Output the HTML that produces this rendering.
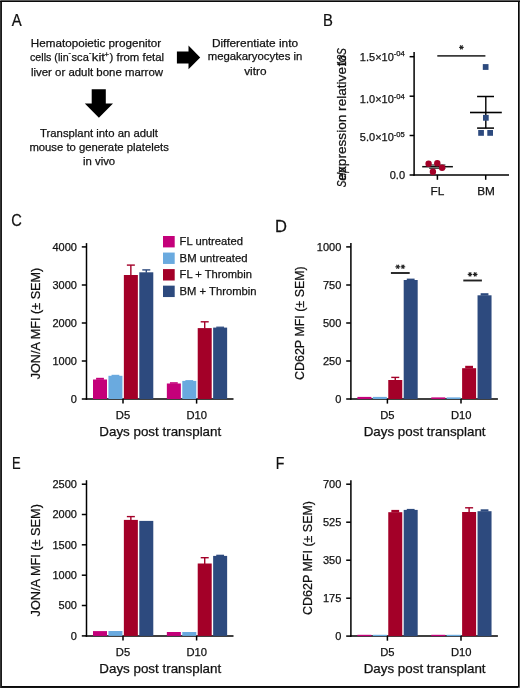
<!DOCTYPE html>
<html><head><meta charset="utf-8"><style>
html,body{margin:0;padding:0;background:#fff;overflow:hidden;}
#fig{position:relative;width:520px;height:688px;overflow:hidden;background:#fff;}
svg{position:absolute;left:0;top:0;}
svg text{font-family:"Liberation Sans", sans-serif;fill:#111;stroke:#111;stroke-width:0.25px;}
svg{will-change:transform;}
</style></head><body><div id="fig">
<svg width="520" height="688" viewBox="0 0 520 688">
<rect x="0" y="0" width="520" height="688" fill="#fff"/>
<text transform="translate(11.87,25.80) scale(0.863,1)" font-size="17.3">A</text>
<text transform="translate(322.88,25.80) scale(0.858,1)" font-size="17.3">B</text>
<text transform="translate(11.15,226.00) scale(0.849,1)" font-size="17.3">C</text>
<text transform="translate(274.94,231.70) scale(0.956,1)" font-size="17.3">D</text>
<text transform="translate(12.04,468.80) scale(0.747,1)" font-size="17.3">E</text>
<text transform="translate(275.74,468.80) scale(0.816,1)" font-size="17.3">F</text>
<text x="30.85" y="46.70" font-size="11.6" textLength="130.3" lengthAdjust="spacingAndGlyphs">Hematopoietic progenitor</text>
<text x="30.00" y="61.10" font-size="11.6" textLength="38.6" lengthAdjust="spacingAndGlyphs">cells (lin</text>
<text x="71.60" y="61.10" font-size="11.6" textLength="17.2" lengthAdjust="spacingAndGlyphs">sca</text>
<text x="91.80" y="61.10" font-size="11.6" textLength="13.2" lengthAdjust="spacingAndGlyphs">kit</text>
<text x="109.60" y="61.10" font-size="11.6" textLength="54.4" lengthAdjust="spacingAndGlyphs">) from fetal</text>
<text x="68.50" y="55.30" font-size="7.2">-</text>
<text x="88.90" y="55.30" font-size="7.2">-</text>
<text x="104.60" y="56.90" font-size="7.6">+</text>
<text x="30.95" y="75.50" font-size="11.6" textLength="132.1" lengthAdjust="spacingAndGlyphs">liver or adult bone marrow</text>
<text x="40.05" y="136.80" font-size="11.6" textLength="117.9" lengthAdjust="spacingAndGlyphs">Transplant into an adult</text>
<text x="29.40" y="150.50" font-size="11.6" textLength="139.4" lengthAdjust="spacingAndGlyphs">mouse to generate platelets</text>
<text x="83.00" y="164.80" font-size="11.6" textLength="32.2" lengthAdjust="spacingAndGlyphs">in vivo</text>
<text x="211.90" y="46.50" font-size="11.6" textLength="86.2" lengthAdjust="spacingAndGlyphs">Differentiate into</text>
<text x="207.70" y="60.30" font-size="11.6" textLength="94.6" lengthAdjust="spacingAndGlyphs">megakaryocytes in</text>
<text x="244.20" y="75.00" font-size="11.6" textLength="22.3" lengthAdjust="spacingAndGlyphs">vitro</text>
<polygon points="176.9,51.4 188.5,51.4 188.5,45.5 200.2,57.5 188.5,69.2 188.5,63.5 176.9,63.5" fill="#000"/>
<polygon points="91.7,89.2 105.8,89.2 105.8,103.5 113.0,103.5 98.9,117.8 84.8,103.5 91.7,103.5" fill="#000"/>
<line x1="414.10" y1="52.10" x2="414.10" y2="175.70" stroke="#000" stroke-width="1.5"/>
<line x1="413.40" y1="175.00" x2="509.00" y2="175.00" stroke="#000" stroke-width="1.5"/>
<line x1="409.60" y1="56.70" x2="414.10" y2="56.70" stroke="#000" stroke-width="1.5"/>
<line x1="409.60" y1="96.20" x2="414.10" y2="96.20" stroke="#000" stroke-width="1.5"/>
<line x1="409.60" y1="135.50" x2="414.10" y2="135.50" stroke="#000" stroke-width="1.5"/>
<line x1="409.60" y1="175.00" x2="414.10" y2="175.00" stroke="#000" stroke-width="1.5"/>
<line x1="437.40" y1="175.00" x2="437.40" y2="179.80" stroke="#000" stroke-width="1.5"/>
<line x1="485.70" y1="175.00" x2="485.70" y2="179.80" stroke="#000" stroke-width="1.5"/>
<text x="404.80" y="60.60" font-size="11" text-anchor="end">1.5×10<tspan dy="-4.3" font-size="7.6">-04</tspan></text>
<text x="404.80" y="103.20" font-size="11" text-anchor="end">1.0×10<tspan dy="-4.3" font-size="7.6">-04</tspan></text>
<text x="404.80" y="141.00" font-size="11" text-anchor="end">5.0×10<tspan dy="-4.3" font-size="7.6">-05</tspan></text>
<text x="405.00" y="178.80" font-size="11" text-anchor="end">0.0</text>
<text x="437.40" y="194.70" font-size="11.8" text-anchor="middle">FL</text>
<text x="486.10" y="194.70" font-size="11.8" text-anchor="middle">BM</text>
<line x1="437.30" y1="55.90" x2="485.40" y2="55.90" stroke="#3a3a3a" stroke-width="1.9"/>
<line x1="459.10" y1="47.40" x2="463.70" y2="47.40" stroke="#222" stroke-width="1.15"/>
<line x1="460.25" y1="45.41" x2="462.55" y2="49.39" stroke="#222" stroke-width="1.15"/>
<line x1="462.55" y1="45.41" x2="460.25" y2="49.39" stroke="#222" stroke-width="1.15"/>
<line x1="429.20" y1="168.30" x2="445.40" y2="168.30" stroke="#333" stroke-width="1.2"/>
<line x1="429.20" y1="165.00" x2="445.40" y2="165.00" stroke="#333" stroke-width="1.2"/>
<line x1="422.20" y1="166.70" x2="452.90" y2="166.70" stroke="#111" stroke-width="1.5"/>
<circle cx="428.6" cy="163.8" r="3.2" fill="#a30028"/>
<circle cx="437.3" cy="163.2" r="3.2" fill="#a30028"/>
<circle cx="442.1" cy="167.8" r="3.2" fill="#a30028"/>
<circle cx="432.9" cy="171.8" r="3.2" fill="#a30028"/>
<line x1="485.80" y1="96.50" x2="485.80" y2="128.10" stroke="#000" stroke-width="1.4"/>
<line x1="477.10" y1="96.50" x2="494.00" y2="96.50" stroke="#000" stroke-width="1.5"/>
<line x1="477.10" y1="128.10" x2="494.00" y2="128.10" stroke="#000" stroke-width="1.5"/>
<line x1="470.00" y1="112.50" x2="501.80" y2="112.50" stroke="#000" stroke-width="1.6"/>
<rect x="482.80" y="64.10" width="5.70" height="5.80" fill="#2d4a7e"/>
<rect x="483.00" y="114.90" width="5.70" height="5.80" fill="#2d4a7e"/>
<rect x="478.20" y="130.00" width="5.70" height="5.80" fill="#2d4a7e"/>
<rect x="487.30" y="130.00" width="5.70" height="5.80" fill="#2d4a7e"/>
<g transform="translate(345.6,187.2) rotate(-90)"><text x="6.7" y="0" font-size="13.6" textLength="113.5" lengthAdjust="spacingAndGlyphs">expression relative</text><text x="0" y="0" font-size="13.6" font-style="italic" textLength="20" lengthAdjust="spacingAndGlyphs">Selp</text><text x="121" y="0" font-size="13.6" textLength="11" lengthAdjust="spacingAndGlyphs">to</text><text x="121" y="0" font-size="13.6" font-style="italic" textLength="18" lengthAdjust="spacingAndGlyphs">18S</text></g>
<line x1="86.50" y1="243.10" x2="86.50" y2="399.75" stroke="#000" stroke-width="1.5"/>
<line x1="85.75" y1="399.00" x2="233.50" y2="399.00" stroke="#000" stroke-width="1.5"/>
<line x1="81.80" y1="246.90" x2="86.50" y2="246.90" stroke="#000" stroke-width="1.5"/>
<text x="76.90" y="250.80" font-size="11" text-anchor="end">4000</text>
<line x1="81.80" y1="285.00" x2="86.50" y2="285.00" stroke="#000" stroke-width="1.5"/>
<text x="76.90" y="288.90" font-size="11" text-anchor="end">3000</text>
<line x1="81.80" y1="323.00" x2="86.50" y2="323.00" stroke="#000" stroke-width="1.5"/>
<text x="76.90" y="326.90" font-size="11" text-anchor="end">2000</text>
<line x1="81.80" y1="361.00" x2="86.50" y2="361.00" stroke="#000" stroke-width="1.5"/>
<text x="76.90" y="364.90" font-size="11" text-anchor="end">1000</text>
<line x1="81.80" y1="399.00" x2="86.50" y2="399.00" stroke="#000" stroke-width="1.5"/>
<text x="76.90" y="402.90" font-size="11" text-anchor="end">0</text>
<line x1="123.00" y1="399.00" x2="123.00" y2="403.60" stroke="#000" stroke-width="1.5"/>
<line x1="196.60" y1="399.00" x2="196.60" y2="403.60" stroke="#000" stroke-width="1.5"/>
<text x="123.00" y="418.60" font-size="11.2" text-anchor="middle">D5</text>
<text x="196.80" y="418.60" font-size="11.2" text-anchor="middle">D10</text>
<text x="99.30" y="436.20" font-size="12.6" textLength="121.9" lengthAdjust="spacingAndGlyphs">Days post transplant</text>
<text transform="translate(39.90,379.30) rotate(-90)" x="0" y="0" font-size="13.6" textLength="111.6" lengthAdjust="spacingAndGlyphs">JON/A MFI (± SEM)</text>
<rect x="93.00" y="379.50" width="14.00" height="19.50" fill="#c4007a"/>
<rect x="96.10" y="377.80" width="7.80" height="2.00" fill="#c4007a"/>
<rect x="108.43" y="375.80" width="14.00" height="23.20" fill="#6aaadf"/>
<rect x="111.53" y="374.80" width="7.80" height="1.30" fill="#6aaadf"/>
<rect x="123.86" y="275.00" width="14.00" height="124.00" fill="#a30028"/>
<line x1="130.86" y1="265.10" x2="130.86" y2="275.50" stroke="#a30028" stroke-width="1.4"/>
<line x1="126.86" y1="265.10" x2="134.86" y2="265.10" stroke="#a30028" stroke-width="1.4"/>
<rect x="139.29" y="272.30" width="14.00" height="126.70" fill="#2d4a7e"/>
<line x1="146.29" y1="269.90" x2="146.29" y2="272.80" stroke="#2d4a7e" stroke-width="1.4"/>
<line x1="142.29" y1="269.90" x2="150.29" y2="269.90" stroke="#2d4a7e" stroke-width="1.4"/>
<rect x="166.85" y="383.50" width="14.00" height="15.50" fill="#c4007a"/>
<rect x="169.95" y="382.20" width="7.80" height="1.60" fill="#c4007a"/>
<rect x="182.28" y="380.90" width="14.00" height="18.10" fill="#6aaadf"/>
<rect x="185.38" y="380.10" width="7.80" height="1.10" fill="#6aaadf"/>
<rect x="197.71" y="328.10" width="14.00" height="70.90" fill="#a30028"/>
<line x1="204.71" y1="321.80" x2="204.71" y2="328.60" stroke="#a30028" stroke-width="1.4"/>
<line x1="200.71" y1="321.80" x2="208.71" y2="321.80" stroke="#a30028" stroke-width="1.4"/>
<rect x="213.14" y="327.60" width="14.00" height="71.40" fill="#2d4a7e"/>
<rect x="216.24" y="326.60" width="7.80" height="1.30" fill="#2d4a7e"/>
<rect x="163.00" y="236.00" width="11.70" height="11.40" fill="#c4007a"/>
<text x="179.60" y="245.40" font-size="11.6" textLength="63.3" lengthAdjust="spacingAndGlyphs">FL untreated</text>
<rect x="163.00" y="252.55" width="11.70" height="11.40" fill="#6aaadf"/>
<text x="179.60" y="261.90" font-size="11.6" textLength="68.0" lengthAdjust="spacingAndGlyphs">BM untreated</text>
<rect x="163.00" y="269.10" width="11.70" height="11.40" fill="#a30028"/>
<text x="179.60" y="278.40" font-size="11.6" textLength="72.4" lengthAdjust="spacingAndGlyphs">FL + Thrombin</text>
<rect x="163.00" y="285.65" width="11.70" height="11.40" fill="#2d4a7e"/>
<text x="179.60" y="294.90" font-size="11.6" textLength="77.0" lengthAdjust="spacingAndGlyphs">BM + Thrombin</text>
<line x1="350.90" y1="243.10" x2="350.90" y2="399.75" stroke="#000" stroke-width="1.5"/>
<line x1="350.15" y1="399.00" x2="497.90" y2="399.00" stroke="#000" stroke-width="1.5"/>
<line x1="346.20" y1="246.90" x2="350.90" y2="246.90" stroke="#000" stroke-width="1.5"/>
<text x="341.30" y="250.80" font-size="11" text-anchor="end">1000</text>
<line x1="346.20" y1="285.00" x2="350.90" y2="285.00" stroke="#000" stroke-width="1.5"/>
<text x="341.30" y="288.90" font-size="11" text-anchor="end">750</text>
<line x1="346.20" y1="323.00" x2="350.90" y2="323.00" stroke="#000" stroke-width="1.5"/>
<text x="341.30" y="326.90" font-size="11" text-anchor="end">500</text>
<line x1="346.20" y1="361.00" x2="350.90" y2="361.00" stroke="#000" stroke-width="1.5"/>
<text x="341.30" y="364.90" font-size="11" text-anchor="end">250</text>
<line x1="346.20" y1="399.00" x2="350.90" y2="399.00" stroke="#000" stroke-width="1.5"/>
<text x="341.30" y="402.90" font-size="11" text-anchor="end">0</text>
<line x1="387.40" y1="399.00" x2="387.40" y2="403.60" stroke="#000" stroke-width="1.5"/>
<line x1="461.00" y1="399.00" x2="461.00" y2="403.60" stroke="#000" stroke-width="1.5"/>
<text x="387.40" y="418.60" font-size="11.2" text-anchor="middle">D5</text>
<text x="461.20" y="418.60" font-size="11.2" text-anchor="middle">D10</text>
<text x="363.70" y="436.20" font-size="12.6" textLength="121.9" lengthAdjust="spacingAndGlyphs">Days post transplant</text>
<text transform="translate(304.30,379.90) rotate(-90)" x="0" y="0" font-size="13.6" textLength="113.6" lengthAdjust="spacingAndGlyphs">CD62P MFI (± SEM)</text>
<rect x="357.40" y="396.90" width="14.00" height="2.10" fill="#c4007a"/>
<rect x="372.83" y="396.90" width="14.00" height="2.10" fill="#6aaadf"/>
<rect x="388.26" y="380.00" width="14.00" height="19.00" fill="#a30028"/>
<line x1="395.26" y1="377.40" x2="395.26" y2="380.50" stroke="#a30028" stroke-width="1.4"/>
<line x1="391.26" y1="377.40" x2="399.26" y2="377.40" stroke="#a30028" stroke-width="1.4"/>
<rect x="403.69" y="280.00" width="14.00" height="119.00" fill="#2d4a7e"/>
<rect x="406.79" y="278.60" width="7.80" height="1.70" fill="#2d4a7e"/>
<rect x="431.25" y="397.40" width="14.00" height="1.60" fill="#c4007a"/>
<rect x="446.68" y="397.40" width="14.00" height="1.60" fill="#6aaadf"/>
<rect x="462.11" y="368.20" width="14.00" height="30.80" fill="#a30028"/>
<rect x="465.21" y="365.80" width="7.80" height="2.70" fill="#a30028"/>
<rect x="477.54" y="295.30" width="14.00" height="103.70" fill="#2d4a7e"/>
<rect x="480.64" y="293.20" width="7.80" height="2.40" fill="#2d4a7e"/>
<line x1="390.90" y1="273.00" x2="409.70" y2="273.00" stroke="#222" stroke-width="1.9"/>
<line x1="395.40" y1="266.80" x2="400.00" y2="266.80" stroke="#222" stroke-width="1.15"/>
<line x1="396.55" y1="264.81" x2="398.85" y2="268.79" stroke="#222" stroke-width="1.15"/>
<line x1="398.85" y1="264.81" x2="396.55" y2="268.79" stroke="#222" stroke-width="1.15"/>
<line x1="400.60" y1="266.80" x2="405.20" y2="266.80" stroke="#222" stroke-width="1.15"/>
<line x1="401.75" y1="264.81" x2="404.05" y2="268.79" stroke="#222" stroke-width="1.15"/>
<line x1="404.05" y1="264.81" x2="401.75" y2="268.79" stroke="#222" stroke-width="1.15"/>
<line x1="463.30" y1="280.50" x2="481.90" y2="280.50" stroke="#222" stroke-width="1.9"/>
<line x1="467.70" y1="274.40" x2="472.30" y2="274.40" stroke="#222" stroke-width="1.15"/>
<line x1="468.85" y1="272.41" x2="471.15" y2="276.39" stroke="#222" stroke-width="1.15"/>
<line x1="471.15" y1="272.41" x2="468.85" y2="276.39" stroke="#222" stroke-width="1.15"/>
<line x1="472.90" y1="274.40" x2="477.50" y2="274.40" stroke="#222" stroke-width="1.15"/>
<line x1="474.05" y1="272.41" x2="476.35" y2="276.39" stroke="#222" stroke-width="1.15"/>
<line x1="476.35" y1="272.41" x2="474.05" y2="276.39" stroke="#222" stroke-width="1.15"/>
<line x1="86.50" y1="480.20" x2="86.50" y2="636.65" stroke="#000" stroke-width="1.5"/>
<line x1="85.75" y1="635.90" x2="233.50" y2="635.90" stroke="#000" stroke-width="1.5"/>
<line x1="81.80" y1="484.20" x2="86.50" y2="484.20" stroke="#000" stroke-width="1.5"/>
<text x="76.90" y="488.10" font-size="11" text-anchor="end">2500</text>
<line x1="81.80" y1="514.50" x2="86.50" y2="514.50" stroke="#000" stroke-width="1.5"/>
<text x="76.90" y="518.40" font-size="11" text-anchor="end">2000</text>
<line x1="81.80" y1="544.80" x2="86.50" y2="544.80" stroke="#000" stroke-width="1.5"/>
<text x="76.90" y="548.70" font-size="11" text-anchor="end">1500</text>
<line x1="81.80" y1="575.20" x2="86.50" y2="575.20" stroke="#000" stroke-width="1.5"/>
<text x="76.90" y="579.10" font-size="11" text-anchor="end">1000</text>
<line x1="81.80" y1="605.50" x2="86.50" y2="605.50" stroke="#000" stroke-width="1.5"/>
<text x="76.90" y="609.40" font-size="11" text-anchor="end">500</text>
<line x1="81.80" y1="635.90" x2="86.50" y2="635.90" stroke="#000" stroke-width="1.5"/>
<text x="76.90" y="639.80" font-size="11" text-anchor="end">0</text>
<line x1="123.00" y1="635.90" x2="123.00" y2="640.50" stroke="#000" stroke-width="1.5"/>
<line x1="196.60" y1="635.90" x2="196.60" y2="640.50" stroke="#000" stroke-width="1.5"/>
<text x="123.00" y="655.50" font-size="11.2" text-anchor="middle">D5</text>
<text x="196.80" y="655.50" font-size="11.2" text-anchor="middle">D10</text>
<text x="99.30" y="673.10" font-size="12.6" textLength="121.9" lengthAdjust="spacingAndGlyphs">Days post transplant</text>
<text transform="translate(39.90,616.40) rotate(-90)" x="0" y="0" font-size="13.6" textLength="112.3" lengthAdjust="spacingAndGlyphs">JON/A MFI (± SEM)</text>
<rect x="93.00" y="631.10" width="14.00" height="4.80" fill="#c4007a"/>
<rect x="108.43" y="631.00" width="14.00" height="4.90" fill="#6aaadf"/>
<rect x="123.86" y="519.90" width="14.00" height="116.00" fill="#a30028"/>
<line x1="130.86" y1="516.60" x2="130.86" y2="520.40" stroke="#a30028" stroke-width="1.4"/>
<line x1="126.86" y1="516.60" x2="134.86" y2="516.60" stroke="#a30028" stroke-width="1.4"/>
<rect x="139.29" y="520.90" width="14.00" height="115.00" fill="#2d4a7e"/>
<rect x="166.85" y="632.00" width="14.00" height="3.90" fill="#c4007a"/>
<rect x="182.28" y="632.00" width="14.00" height="3.90" fill="#6aaadf"/>
<rect x="197.71" y="563.50" width="14.00" height="72.40" fill="#a30028"/>
<line x1="204.71" y1="557.70" x2="204.71" y2="564.00" stroke="#a30028" stroke-width="1.4"/>
<line x1="200.71" y1="557.70" x2="208.71" y2="557.70" stroke="#a30028" stroke-width="1.4"/>
<rect x="213.14" y="555.90" width="14.00" height="80.00" fill="#2d4a7e"/>
<rect x="216.24" y="554.70" width="7.80" height="1.50" fill="#2d4a7e"/>
<line x1="350.90" y1="480.20" x2="350.90" y2="636.85" stroke="#000" stroke-width="1.5"/>
<line x1="350.15" y1="636.10" x2="497.90" y2="636.10" stroke="#000" stroke-width="1.5"/>
<line x1="346.20" y1="484.20" x2="350.90" y2="484.20" stroke="#000" stroke-width="1.5"/>
<text x="341.30" y="488.10" font-size="11" text-anchor="end">700</text>
<line x1="346.20" y1="522.20" x2="350.90" y2="522.20" stroke="#000" stroke-width="1.5"/>
<text x="341.30" y="526.10" font-size="11" text-anchor="end">525</text>
<line x1="346.20" y1="560.20" x2="350.90" y2="560.20" stroke="#000" stroke-width="1.5"/>
<text x="341.30" y="564.10" font-size="11" text-anchor="end">350</text>
<line x1="346.20" y1="598.20" x2="350.90" y2="598.20" stroke="#000" stroke-width="1.5"/>
<text x="341.30" y="602.10" font-size="11" text-anchor="end">175</text>
<line x1="346.20" y1="636.10" x2="350.90" y2="636.10" stroke="#000" stroke-width="1.5"/>
<text x="341.30" y="640.00" font-size="11" text-anchor="end">0</text>
<line x1="387.40" y1="636.10" x2="387.40" y2="640.70" stroke="#000" stroke-width="1.5"/>
<line x1="461.00" y1="636.10" x2="461.00" y2="640.70" stroke="#000" stroke-width="1.5"/>
<text x="387.40" y="655.70" font-size="11.2" text-anchor="middle">D5</text>
<text x="461.20" y="655.70" font-size="11.2" text-anchor="middle">D10</text>
<text x="363.70" y="673.30" font-size="12.6" textLength="121.9" lengthAdjust="spacingAndGlyphs">Days post transplant</text>
<text transform="translate(311.80,614.90) rotate(-90)" x="0" y="0" font-size="13.6" textLength="113.9" lengthAdjust="spacingAndGlyphs">CD62P MFI (± SEM)</text>
<rect x="357.40" y="634.80" width="14.00" height="1.30" fill="#c4007a"/>
<rect x="372.83" y="634.80" width="14.00" height="1.30" fill="#6aaadf"/>
<rect x="388.26" y="512.20" width="14.00" height="123.90" fill="#a30028"/>
<rect x="391.36" y="509.90" width="7.80" height="2.60" fill="#a30028"/>
<rect x="403.69" y="509.90" width="14.00" height="126.20" fill="#2d4a7e"/>
<rect x="406.79" y="508.90" width="7.80" height="1.30" fill="#2d4a7e"/>
<rect x="431.25" y="634.80" width="14.00" height="1.30" fill="#c4007a"/>
<rect x="446.68" y="634.80" width="14.00" height="1.30" fill="#6aaadf"/>
<rect x="462.11" y="512.00" width="14.00" height="124.10" fill="#a30028"/>
<line x1="469.11" y1="507.80" x2="469.11" y2="512.50" stroke="#a30028" stroke-width="1.4"/>
<line x1="465.11" y1="507.80" x2="473.11" y2="507.80" stroke="#a30028" stroke-width="1.4"/>
<rect x="477.54" y="511.20" width="14.00" height="124.90" fill="#2d4a7e"/>
<rect x="480.64" y="509.30" width="7.80" height="2.20" fill="#2d4a7e"/>
<rect x="0" y="686" width="520" height="2" fill="#151515"/><rect x="0" y="686" width="520" height="1" fill="#0a0a0a"/>
<rect x="0" y="0" width="2" height="688" fill="#1a1a1a"/><rect x="0" y="0" width="1" height="688" fill="#333"/>
<rect x="518" y="0" width="2" height="688" fill="#555"/><rect x="518" y="0" width="1" height="687" fill="#080808"/>
<rect x="0" y="0" width="520" height="2" fill="#0a0a0a"/><rect x="0" y="0" width="520" height="1" fill="#5a5a5a"/>
<rect x="519" y="687" width="1" height="1" fill="#777"/><rect x="0" y="0" width="1" height="1" fill="#777"/>
</svg></div></body></html>
